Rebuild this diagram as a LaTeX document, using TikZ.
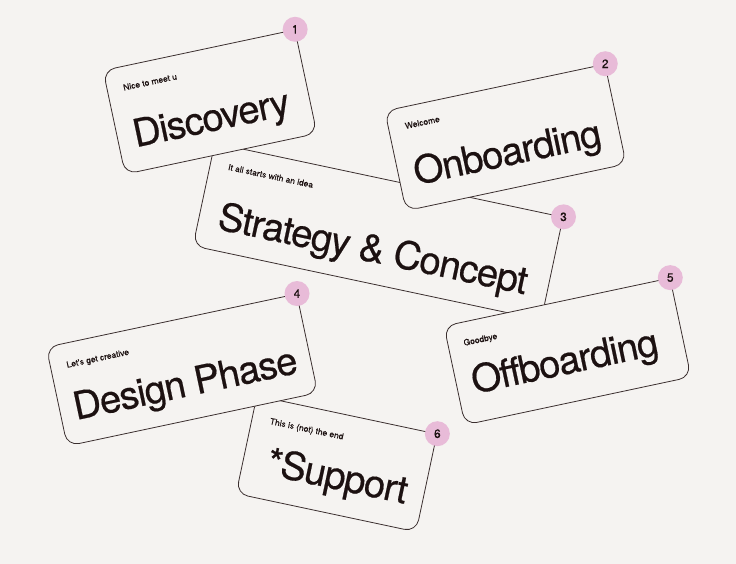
\documentclass[tikz,border=0pt]{standalone}
\usepackage{fontspec}
\setmainfont{TeX Gyre Heros}
\newfontfamily\titlefont[LetterSpace=-3, FakeBold=0.5]{TeX Gyre Heros}
\newfontfamily\tagfont[FakeBold=0.3]{TeX Gyre Heros}
\usepackage{tikz}
\usetikzlibrary{calc}

\definecolor{paper}{HTML}{F5F3F1}
\definecolor{edge}{HTML}{3A2E2E}
\definecolor{ink}{HTML}{1C1111}
\definecolor{pinkdot}{HTML}{E8BBD8}

\begin{document}
\begin{tikzpicture}[x=1pt, y=-1pt,
        card/.style={draw=edge, fill=paper, rounded corners=12pt, line width=0.8pt, inner sep=0pt},
        tag/.style={anchor=base west, text=ink, inner sep=0pt, font=\tagfont\fontsize{8.5}{10}\selectfont},
        title/.style={anchor=base west, text=ink, inner sep=0pt, font=\titlefont\fontsize{38.5}{42}\selectfont},
        badge/.style={circle, fill=pinkdot, minimum size=25pt, inner sep=0pt, text=ink, font=\tagfont\fontsize{12}{12}\selectfont}]

        % Background.
        \useasboundingbox (0,0) rectangle (736,564);
        \fill[paper] (0,0) rectangle (736,564);

        % Strategy & Concept (behind).
        \begin{scope}[shift={(378,231.5)}, rotate=-12, transform shape]
            \node[card, minimum width=356pt, minimum height=105pt] (strategy) at (0,0) {};
            \node[tag] (strategyTag) at (-160,-29) {It all starts with an idea};
            \node[title] (strategyTitle) at (-159,31) {Strategy \& Concept};
            \node[badge, rotate=12] (strategyNum) at (strategy.north east) {3};
        \end{scope}

        % Support (behind).
        \begin{scope}[shift={(336.5,463.8)}, rotate=-12, transform shape]
            \node[card, minimum width=184pt, minimum height=100pt] (support) at (0,0) {};
            \node[tag] (supportTag) at (-74,-25) {This is (not) the end};
            \node[title] (supportTitle) at (-68,25) {*Support};
            \node[badge, rotate=12] (supportNum) at (support.north east) {6};
        \end{scope}

        % Discovery.
        \begin{scope}[shift={(210,102)}, rotate=12, transform shape]
            \node[card, minimum width=196pt, minimum height=106pt] (discovery) at (0,0) {};
            \node[tag] (discoveryTag) at (-82,-29) {Nice to meet u};
            \node[title] (discoveryTitle) at (-82,29) {Discovery};
            \node[badge, rotate=-12] (discoveryNum) at (discovery.north east) {1};
        \end{scope}

        % Onboarding.
        \begin{scope}[shift={(505.5,137.5)}, rotate=12, transform shape]
            \node[card, minimum width=225pt, minimum height=102pt] (onboarding) at (0,0) {};
            \node[tag] (onboardingTag) at (-96,-29) {Welcome};
            \node[title] (onboardingTitle) at (-97,28) {Onboarding};
            \node[badge, rotate=-12] (onboardingNum) at (onboarding.north east) {2};
        \end{scope}

        % Offboarding.
        \begin{scope}[shift={(567.5,351.5)}, rotate=12, transform shape]
            \node[card, minimum width=231pt, minimum height=101pt] (offboarding) at (0,0) {};
            \node[tag] (offboardingTag) at (-100,-27) {Goodbye};
            \node[title] (offboardingTitle) at (-100,22) {Offboarding};
            \node[badge, rotate=-12] (offboardingNum) at (offboarding.north east) {5};
        \end{scope}

        % Design Phase.
        \begin{scope}[shift={(182,370)}, rotate=12, transform shape]
            \node[card, minimum width=256pt, minimum height=101pt] (design) at (0,0) {};
            \node[tag] (designTag) at (-112,-26) {Let's get creative};
            \node[title] (designTitle) at (-114,27) {Design Phase};
            \node[badge, rotate=-12] (designNum) at (design.north east) {4};
        \end{scope}

    \end{tikzpicture}
\end{document}
